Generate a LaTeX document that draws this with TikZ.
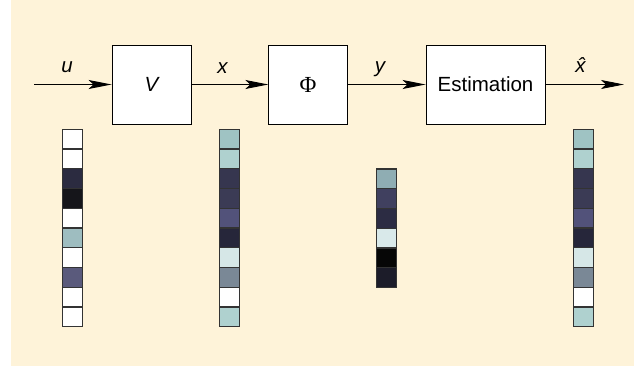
\documentclass[tikz,border=0pt]{standalone}
\usepackage{fontspec}
\setmainfont{Liberation Sans}
\newfontfamily\phifont{Liberation Serif}
\usetikzlibrary{arrows.meta}

\definecolor{paper}{HTML}{FEF3D9}
\definecolor{cellline}{HTML}{333333}
% cell shades
\definecolor{cW}{HTML}{FFFFFF}
\definecolor{cA}{HTML}{2B2B40}
\definecolor{cB}{HTML}{15151A}
\definecolor{cC}{HTML}{9EBDC0}
\definecolor{cD}{HTML}{5A5A7C}
\definecolor{cE}{HTML}{9FC3C3}
\definecolor{cF}{HTML}{AFD1CF}
\definecolor{cG}{HTML}{36364F}
\definecolor{cH}{HTML}{3B3B55}
\definecolor{cI}{HTML}{52527A}
\definecolor{cJ}{HTML}{26263A}
\definecolor{cK}{HTML}{D6E7E7}
\definecolor{cL}{HTML}{7A8896}
\definecolor{cM}{HTML}{8FADB3}
\definecolor{cN}{HTML}{40405F}
\definecolor{cO}{HTML}{2C2C43}
\definecolor{cP}{HTML}{D9E9EA}
\definecolor{cQ}{HTML}{060606}
\definecolor{cR}{HTML}{1C1C29}

\tikzset{
  blockbox/.style={draw=black, line width=0.9pt, fill=white, minimum height=79pt,
    inner sep=0pt, font=\fontsize{20.5}{24}\selectfont},
  sig/.style={font=\fontsize{20.5}{24}\selectfont\itshape, inner sep=0pt},
  flow/.style={line width=0.9pt, -{Stealth[length=23pt, width=9pt, inset=5pt]}},
  cell/.style={draw=cellline, line width=1.3pt, minimum width=20pt,
    minimum height=19.74pt, inner sep=0pt, outer sep=0pt}
}

\begin{document}
\begin{tikzpicture}[x=1pt, y=-1pt]
  \useasboundingbox (0,0) rectangle (634,366);
  \fill[paper] (11,0) rectangle (634,366);

  % processing chain
  \node[blockbox, minimum width=79pt]  (V)   at (151.5,84.5) {\itshape V};
  \node[blockbox, minimum width=78.5pt] (Phi) at (308,84.5)  {\phifont\fontsize{23}{26}\selectfont Φ};
  \node[blockbox, minimum width=119pt] (Est) at (485.5,84.5) {Estimation};
  \coordinate (in)  at (34,84.5);
  \coordinate (out) at (624,84.5);

  \draw[flow] (in) -- (V.west);
  \draw[flow] (V.east) -- (Phi.west);
  \draw[flow] (Phi.east) -- (Est.west);
  \draw[flow] (Est.east) -- (out);

  \node[sig] (lu)  at (67,67)    {u};
  \node[sig] (lx)  at (222.5,68) {x};
  \node[sig] (ly)  at (380,69)   {y};
  \node[sig] (lxh) at (580.5,65) {\^{x}};

  % vectors as stacks of shaded cells
  \foreach \c [count=\i] in {cW,cW,cA,cB,cW,cC,cW,cD,cW,cW}
    \node[cell, fill=\c] (u\i) at (72.3,{129.3+19.74*(\i-0.5)}) {};
  \foreach \c [count=\i] in {cE,cF,cG,cH,cI,cJ,cK,cL,cW,cF}
    \node[cell, fill=\c] (x\i) at (229.3,{129.3+19.74*(\i-0.5)}) {};
  \foreach \c [count=\i] in {cM,cN,cO,cP,cQ,cR}
    \node[cell, fill=\c] (y\i) at (386.7,{169+19.74*(\i-0.5)}) {};
  \foreach \c [count=\i] in {cE,cF,cG,cH,cI,cJ,cK,cL,cW,cF}
    \node[cell, fill=\c] (xh\i) at (583.3,{129.3+19.74*(\i-0.5)}) {};
\end{tikzpicture}
\end{document}
